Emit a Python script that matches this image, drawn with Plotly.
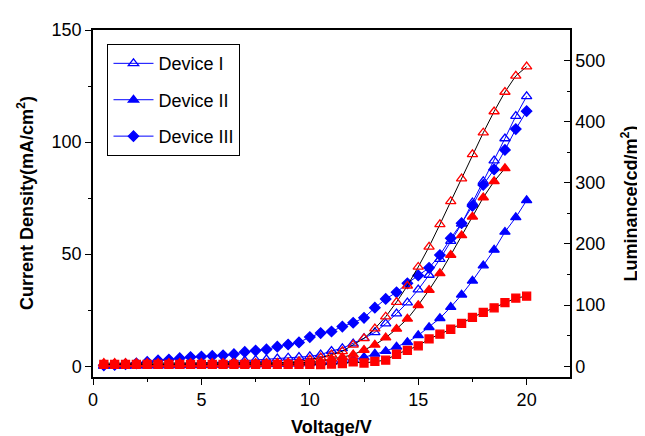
import plotly.graph_objects as go

voltage = [0.5 * i for i in range(1, 41)]

# Current density (mA/cm^2), left axis
dev1_current = [0.1, 0.2, 0.3, 0.4, 0.5, 0.6, 0.8, 1.0, 1.2, 1.4,
                1.6, 1.9, 2.2, 2.5, 2.8, 3.1, 3.4, 3.8, 4.1, 4.4,
                5.2, 6.8, 8.0, 10.1, 12.5, 15.1, 19.0, 23.5, 28.4, 34.2,
                40.7, 47.8, 55.8, 63.5, 73.0, 82.5, 91.7, 101.6, 111.6, 120.4]
dev2_current = [0.1, 0.1, 0.1, 0.2, 0.2, 0.2, 0.3, 0.3, 0.4, 0.4,
                0.5, 0.5, 0.6, 0.6, 0.7, 0.8, 0.9, 1.0, 1.1, 1.3,
                1.6, 2.0, 2.5, 3.1, 4.0, 5.5, 6.7, 8.7, 10.7, 13.8,
                17.4, 21.4, 26.4, 31.9, 38.1, 44.9, 51.9, 59.9, 66.4, 74.0]
dev3_current = [0.4, 0.6, 0.9, 1.3, 1.9, 2.6, 3.0, 3.6, 4.1, 4.3,
                4.6, 4.9, 5.4, 6.4, 7.0, 7.5, 8.7, 9.7, 10.6, 13.0,
                14.8, 15.5, 17.7, 19.4, 21.6, 26.1, 30.0, 33.0, 37.0, 40.5,
                43.9, 49.6, 57.1, 63.8, 71.5, 80.9, 87.8, 96.5, 105.8, 113.8]

# Luminance (cd/m^2), right axis
dev1_lum = [3, 3, 3, 3, 3, 3, 3, 3, 3, 3,
            3, 3, 3, 3, 4, 4, 5, 6, 8, 11,
            14, 19, 24.4, 35, 45.7, 61.6, 81, 105, 131.7, 162.4,
            195.4, 232, 269.6, 306.8, 346.6, 382, 416.7, 448.6, 475, 490]
dev2_lum = [5, 5, 5, 5, 5, 5, 5, 5, 5, 5,
            5, 5, 5, 5, 5, 5, 5, 5, 5, 6,
            8, 12.3, 14.8, 19, 26.6, 35, 46.7, 61, 77.5, 99.8,
            124.7, 151.8, 182, 213.9, 244.5, 276, 302.5, 323.7]
dev3_lum = [3, 3, 3, 3, 3, 3, 3, 3, 3, 3,
            3, 3, 3, 3, 3, 3, 3, 3, 3, 3,
            2.5, 3.5, 4.3, 7, 5.3, 8, 10, 19.6, 26, 33.4,
            44.6, 52.5, 60.5, 70, 80, 88, 95.5, 104, 111.5, 114.6]

legend_names = ["Device I", "Device II", "Device III"]
x_ticks = [0, 5, 10, 15, 20]
y_ticks = [0, 50, 100, 150]
y2_ticks = [0, 100, 200, 300, 400, 500]

BLUE = "rgb(0,0,255)"
RED = "rgb(255,0,0)"
FONT = "Liberation Sans, Arial, sans-serif"

fig = go.Figure()

blue_specs = [
    (dev1_current, "triangle-up-open", 9, legend_names[0]),
    (dev2_current, "triangle-up", 9, legend_names[1]),
    (dev3_current, "diamond", 8, legend_names[2]),
]
for i, (vals, sym, sz, name) in enumerate(blue_specs):
    fig.add_trace(go.Scatter(
        x=voltage, y=vals, name=name, mode="lines+markers",
        line=dict(color=BLUE, width=1),
        marker=dict(symbol=sym, size=sz, color=BLUE, line=dict(color=BLUE, width=1.3)),
        legendgroup="g%d" % i, showlegend=True, yaxis="y"))

red_specs = [
    (dev1_lum, "triangle-up-open", 9),
    (dev2_lum, "triangle-up", 9),
    (dev3_lum, "square", 8),
]
for vals, sym, sz in red_specs:
    fig.add_trace(go.Scatter(
        x=voltage[:len(vals)], y=vals, mode="lines+markers",
        line=dict(color="black", width=1),
        marker=dict(symbol=sym, size=sz, color=RED, line=dict(color=RED, width=1.3)),
        showlegend=False, yaxis="y2"))

# Page offset: the page body adds an 8px margin, compensate in the figure margins
OFF = 8
PL, PT, PR, PB = 92.5, 21, 570, 377  # plot-area edges in page pixels
W, H = 645, 436
pw = PR - PL
ph = PB - PT
L = PL - OFF
T = PT - OFF
R = W - (PR - OFF)
B = H - (PB - OFF)

fig.update_layout(
    width=W, height=H, autosize=False,
    margin=dict(l=L, r=R, t=T, b=B, pad=0),
    paper_bgcolor="white", plot_bgcolor="white",
    font=dict(family=FONT, size=18, color="black"),
    showlegend=True,
    legend=dict(x=(107 - PL) / pw, y=(PB - 35.5) / ph, xanchor="left", yanchor="top",
                bordercolor="black", borderwidth=1, bgcolor="white",
                font=dict(family=FONT, size=18, color="black"),
                tracegroupgap=10, itemwidth=40),
    xaxis=dict(range=[0, 22], tickvals=x_ticks, ticks="outside", ticklen=6, tickwidth=1.3,
               tickcolor="black", showline=True, linecolor="black", linewidth=1.5,
               mirror=True, showgrid=False, zeroline=False,
               minor=dict(dtick=2.5, ticks="outside", ticklen=3, tickcolor="black", tickwidth=1.3, showgrid=False),
               tickfont=dict(size=18)),
    yaxis=dict(range=[-4.8, 150], tickvals=y_ticks, ticks="outside", ticklen=6, tickwidth=1.3,
               tickcolor="black", showline=True, linecolor="black", linewidth=1.5,
               showgrid=False, zeroline=False,
               minor=dict(dtick=25, ticks="outside", ticklen=3, tickcolor="black", tickwidth=1.3, showgrid=False),
               tickfont=dict(size=18)),
    yaxis2=dict(range=[-17.6, 550], tickvals=y2_ticks, overlaying="y", side="right",
                ticks="inside", ticklen=6, tickwidth=1.3, tickcolor="black",
                showline=True, linecolor="black", linewidth=1.5,
                showgrid=False, zeroline=False,
                minor=dict(dtick=50, ticks="inside", ticklen=3, tickcolor="black", tickwidth=1.3, showgrid=False),
                tickfont=dict(size=18)),
    annotations=[
        dict(text="<b>Current Density(mA/cm<sup>2</sup>)</b>", xref="paper", yref="paper",
             x=(25 - PL) / pw, y=0.5, xanchor="center", yanchor="middle", textangle=-90,
             showarrow=False, font=dict(size=18)),
        dict(text="<b>Luminance(cd/m<sup>2</sup>)</b>", xref="paper", yref="paper",
             x=(630 - PL) / pw, y=0.5, xanchor="center", yanchor="middle", textangle=-90,
             showarrow=False, font=dict(size=18)),
        dict(text="<b>Voltage/V</b>", xref="paper", yref="paper",
             x=0.5, y=(PB - 428) / ph, xanchor="center", yanchor="middle",
             showarrow=False, font=dict(size=18)),
    ],
)

fig.write_html("out.html")
